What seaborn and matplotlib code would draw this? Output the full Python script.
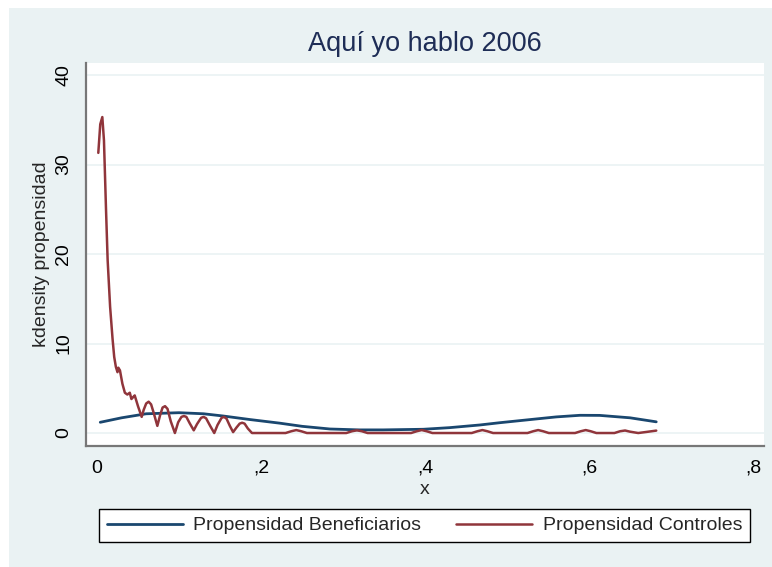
import numpy as np
import pandas as pd
import matplotlib
matplotlib.use('Agg')
import matplotlib.pyplot as plt
from matplotlib.patches import Rectangle
import seaborn as sns

# ── data ─────────────────────────────────────────────────────────────────────
benef_x = [0.004, 0.03, 0.06, 0.10, 0.13, 0.154, 0.187, 0.223, 0.25, 0.284,
           0.32, 0.349, 0.398, 0.43, 0.467, 0.491, 0.528, 0.56, 0.589, 0.613,
           0.65, 0.682]
benef_y = [1.2, 1.7, 2.15, 2.27, 2.15, 1.9, 1.5, 1.1, 0.75, 0.45,
           0.35, 0.35, 0.42, 0.6, 0.9, 1.15, 1.5, 1.8, 1.98, 1.97,
           1.7, 1.25]

ctrl_x = [0.0016, 0.004, 0.0065, 0.0085, 0.011, 0.013, 0.016, 0.019, 0.021, 0.023,
          0.025, 0.026, 0.028, 0.031, 0.034, 0.037, 0.040, 0.042, 0.044, 0.046,
          0.050, 0.0545, 0.057, 0.060, 0.063, 0.066, 0.069, 0.0736, 0.077, 0.080,
          0.083, 0.086, 0.090, 0.095, 0.099, 0.103, 0.106, 0.109, 0.113, 0.118,
          0.122, 0.127, 0.130, 0.133, 0.138, 0.143, 0.147, 0.152, 0.155, 0.158,
          0.162, 0.166, 0.170, 0.174, 0.177, 0.180, 0.184, 0.189,
          0.230, 0.237, 0.243, 0.249, 0.256,
          0.304, 0.311, 0.317, 0.323, 0.330,
          0.383, 0.390, 0.396, 0.402, 0.409,
          0.457, 0.464, 0.470, 0.476, 0.483,
          0.525, 0.532, 0.538, 0.544, 0.551,
          0.583, 0.590, 0.596, 0.602, 0.609,
          0.631, 0.638, 0.644, 0.650, 0.660, 0.670, 0.682]
ctrl_y = [31.3, 34.5, 35.3, 32.7, 25.0, 19.3, 14.1, 10.5, 8.5, 7.4,
          6.8, 7.3, 7.0, 5.5, 4.5, 4.3, 4.5, 3.8, 4.0, 4.2,
          3.0, 1.8, 2.6, 3.3, 3.5, 3.2, 2.3, 0.8, 2.0, 2.85,
          3.0, 2.7, 1.3, 0.0, 1.2, 1.8, 1.9, 1.8, 1.1, 0.3,
          1.0, 1.7, 1.8, 1.65, 0.8, 0.0, 0.9, 1.7, 1.8, 1.6,
          0.8, 0.1, 0.6, 1.05, 1.15, 1.05, 0.5, 0.0,
          0.0, 0.2, 0.33, 0.2, 0.0,
          0.0, 0.2, 0.3, 0.2, 0.0,
          0.0, 0.2, 0.33, 0.2, 0.0,
          0.0, 0.2, 0.33, 0.2, 0.0,
          0.0, 0.2, 0.33, 0.2, 0.0,
          0.0, 0.2, 0.33, 0.2, 0.0,
          0.0, 0.2, 0.28, 0.15, 0.0, 0.12, 0.27]

x_ticks = [0, 0.2, 0.4, 0.6, 0.8]
x_tick_labels = ['0', ',2', ',4', ',6', ',8']
y_ticks = [0, 10, 20, 30, 40]

# ── style ────────────────────────────────────────────────────────────────────
sns.set_style('white')
plt.rcParams['font.family'] = ['Liberation Sans', 'DejaVu Sans']

bg_outer = '#EAF2F3'
blue = '#1A476F'
red = '#90353B'

fig = plt.figure(figsize=(7.72, 5.67), dpi=100)
fig.patch.set_facecolor('white')
fig.patches.append(Rectangle((9 / 772, 0), 1, 1 - 8 / 567, transform=fig.transFigure,
                             facecolor=bg_outer, edgecolor='none', zorder=-10))

ax = fig.add_axes([86 / 772, 1 - 446 / 567, (764 - 86) / 772, (446 - 63) / 567])
ax.set_zorder(1)
ax.set_facecolor('white')

sns.lineplot(x=benef_x, y=benef_y, ax=ax, color=blue, lw=2.0, sort=False,
             estimator=None, label='Propensidad Beneficiarios')
sns.lineplot(x=ctrl_x, y=ctrl_y, ax=ax, color=red, lw=1.8, sort=False,
             estimator=None, label='Propensidad Controles')
for ln in ax.lines:
    ln.set_solid_joinstyle('round')

ax.set_xlim(-0.0134, 0.8134)
ax.set_ylim(-1.45, 41.34)
ax.set_xticks(x_ticks)
ax.set_xticklabels(x_tick_labels)
ax.set_yticks(y_ticks)
ax.set_yticklabels([str(t) for t in y_ticks], rotation=90, va='center')
ax.tick_params(axis='both', direction='out', length=6, width=1.2, color='#222222',
               labelsize=14, labelcolor='black', pad=4)
ax.grid(axis='y', color=bg_outer, lw=1.2)
ax.set_axisbelow(True)
for side in ['top', 'right']:
    ax.spines[side].set_visible(False)
for side in ['left', 'bottom']:
    ax.spines[side].set_color('#777777')
    ax.spines[side].set_linewidth(1.6)

ax.set_xlabel('x', fontsize=14, labelpad=3)
ax.set_ylabel('kdensity propensidad', fontsize=14, labelpad=4)

fig.text(0.55, 1 - 44 / 567, 'Aquí yo hablo 2006', ha='center', va='center',
         fontsize=19.5, color='#1E2D56')

handles, labels = ax.get_legend_handles_labels()
ax.get_legend().remove()
leg = fig.legend(handles, labels, ncol=2, loc='upper left',
                 bbox_to_anchor=(99 / 772, 1 - 509 / 567),
                 fontsize=14, frameon=True, fancybox=False, handlelength=3.9,
                 handletextpad=0.55, borderaxespad=0, borderpad=0.4,
                 columnspacing=1.8)
leg.get_frame().set_edgecolor('black')
leg.get_frame().set_linewidth(1.0)
leg.get_frame().set_facecolor('white')
leg.get_frame().set_alpha(1)

plt.savefig('out.png', dpi=100, facecolor='white')
